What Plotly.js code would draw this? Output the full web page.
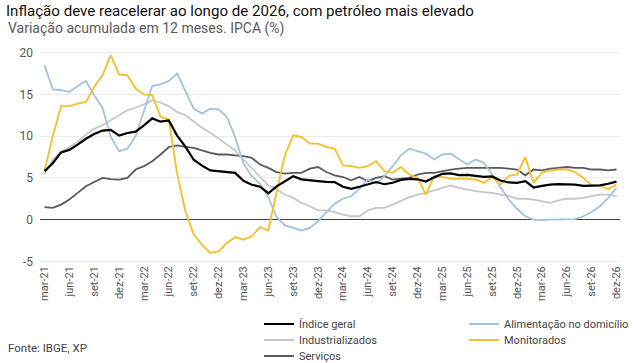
<!DOCTYPE html>
<html><head><meta charset="utf-8">
<script src="https://cdn.plot.ly/plotly-3.0.1.min.js"></script>
<style>html,body{margin:0;padding:0;background:#fff}#c{width:640px;height:363px}</style>
</head><body><div id="c"></div>
<script>
const months = ["mar-21","abr-21","mai-21","jun-21","jul-21","ago-21","set-21","out-21","nov-21","dez-21",
"jan-22","fev-22","mar-22","abr-22","mai-22","jun-22","jul-22","ago-22","set-22","out-22","nov-22","dez-22",
"jan-23","fev-23","mar-23","abr-23","mai-23","jun-23","jul-23","ago-23","set-23","out-23","nov-23","dez-23",
"jan-24","fev-24","mar-24","abr-24","mai-24","jun-24","jul-24","ago-24","set-24","out-24","nov-24","dez-24",
"jan-25","fev-25","mar-25","abr-25","mai-25","jun-25","jul-25","ago-25","set-25","out-25","nov-25","dez-25",
"jan-26","fev-26","mar-26","abr-26","mai-26","jun-26","jul-26","ago-26","set-26","out-26","nov-26","dez-26"];

const indiceGeral = [5.8,6.76,8.06,8.35,8.99,9.68,10.25,10.67,10.74,10.06,
10.38,10.54,11.30,12.13,11.73,11.89,10.07,8.73,7.17,6.47,5.90,5.79,
5.77,5.60,4.65,4.18,3.94,3.16,3.99,4.61,5.19,4.82,4.68,4.62,
4.51,4.50,3.93,3.69,3.93,4.23,4.50,4.24,4.42,4.76,4.87,4.83,
4.56,5.06,5.48,5.53,5.32,5.35,5.2,5.13,5.17,4.68,4.45,4.4,
4.6,3.85,4.05,4.2,4.25,4.25,4.2,4.05,4.05,4.1,4.3,4.55];

const alimentacao = [18.5,15.6,15.5,15.3,16.0,16.6,14.9,13.4,9.9,8.2,
8.5,10.0,13.0,16.0,16.2,16.6,17.5,15.5,13.3,12.7,13.3,13.2,
12.3,9.9,6.7,5.2,4.3,2.7,0.3,-0.7,-1.0,-1.3,-1.0,-0.2,
0.9,1.9,2.5,2.8,3.7,4.8,4.3,5.2,6.4,7.7,8.5,8.2,
7.9,7.2,7.8,7.9,7.3,6.6,7.2,6.8,5.4,3.9,2.4,1.3,
0.4,0.0,-0.05,0.0,0.0,0.0,0.05,0.4,0.9,1.6,2.6,3.8];

const industrializados = [5.4,7.2,8.1,8.7,9.3,10.2,10.9,11.3,11.9,12.6,
13.1,13.4,13.8,14.3,14.0,13.6,12.9,12.5,11.7,11.0,10.4,9.7,
9.1,8.3,7.2,6.2,5.2,4.1,3.6,3.0,2.6,2.0,1.6,1.1,
1.1,0.9,0.6,0.4,0.4,1.1,1.4,1.4,1.8,2.3,2.7,3.0,
3.2,3.5,3.8,4.1,3.8,3.6,3.4,3.3,3.2,3.0,2.8,2.5,
2.5,2.4,2.2,2.0,2.3,2.5,2.5,2.6,2.8,3.0,3.0,2.8];

const monitorados = [5.8,10.0,13.6,13.6,13.9,14.1,15.9,17.3,19.7,17.4,
17.3,15.7,15.0,14.9,12.3,12.0,5.5,1.0,-1.8,-3.0,-4.0,-3.8,
-2.8,-2.1,-2.4,-2.0,-0.9,-1.3,3.3,7.7,10.1,9.9,9.1,9.1,
8.7,8.5,6.5,6.4,6.2,6.4,7.0,5.8,5.6,6.3,5.4,5.0,
3.0,5.2,5.1,4.9,4.9,4.9,4.8,4.4,5.1,4.2,5.25,5.4,
7.5,4.4,5.6,5.9,6.0,6.0,5.7,5.0,4.1,4.1,3.65,4.2];

const servicos = [1.5,1.4,1.8,2.4,3.2,4.0,4.5,5.0,4.85,4.8,
5.0,6.0,6.4,7.0,7.8,8.7,8.9,8.7,8.6,8.3,8.0,7.8,
7.8,7.7,7.6,7.4,6.6,6.2,5.7,5.5,5.6,5.6,6.1,6.3,
5.7,5.3,5.1,4.7,5.1,4.6,5.0,5.2,4.8,4.9,5.0,5.4,
5.6,5.6,5.8,6.0,6.1,6.2,6.2,6.2,6.2,6.2,6.1,6.0,
5.3,6.0,5.9,6.1,6.2,6.3,6.2,6.2,6.0,6.0,5.9,6.0];

const idx = months.map((m,i)=>i);
const tickIdx = idx.filter(i=>i%3===0);
const tickText = tickIdx.map(i=>months[i]);

function tr(name, y, color, width, leg){
  return {x: idx, y: y, name: name, type:'scatter', mode:'lines',
    line:{color:color, width:width}, legend: leg, hoverinfo:'skip'};
}
const data = [
  tr('Serviços', servicos, '#5a5a5a', 1.8, 'legend5'),
  tr('Industrializados', industrializados, '#c6c6c6', 1.8, 'legend3'),
  tr('Alimentação no domicílio', alimentacao, '#a3c2dd', 1.8, 'legend2'),
  tr('Monitorados', monitorados, '#f1c232', 1.9, 'legend4'),
  tr('Índice geral', indiceGeral, '#000000', 2.2, 'legend')
];

const PL = 40, PR = 620, PT = 51, PB = 263;
const W = PR - PL, H = PB - PT;
const px2x = p => (p - PL) / W;
const px2y = p => (PB - p) / H;

function leg(xp, yp){
  return {orientation:'v', xanchor:'left', yanchor:'middle', x:px2x(xp), y:px2y(yp),
    font:{size:11, color:'#444'}, bgcolor:'rgba(0,0,0,0)', itemwidth:30, tracegroupgap:0};
}

const layout = {
  width:640, height:363,
  margin:{l:PL, r:640-PR, t:PT, b:363-PB, autoexpand:false},
  paper_bgcolor:'#fff', plot_bgcolor:'#fff',
  font:{family:'Roboto, sans-serif', color:'#555'},
  title:{text:'Inflação deve reacelerar ao longo de 2026, com petróleo mais elevado',
    x:6/640, xref:'container', xanchor:'left', y:1-11/363, yref:'container', yanchor:'middle',
    font:{family:'Roboto, sans-serif', size:15.1, color:'#111'}},
  xaxis:{range:[-0.54, 69.42], tickvals:tickIdx, ticktext:tickText, tickangle:-90,
    showgrid:false, zeroline:false, showline:false, ticks:'',
    tickfont:{size:11, color:'#555'}},
  yaxis:{range:[-5.2, 20.2], tickvals:[-5,0,5,10,15,20], ticktext:['-5','0','5','10','15','20'],
    showgrid:true, gridcolor:'#ebebeb', gridwidth:1,
    zeroline:true, zerolinecolor:'#404040', zerolinewidth:1.5,
    showline:false, ticks:'', ticklabelstandoff:6,
    tickfont:{size:12, color:'#555'}},
  showlegend:true,
  legend: leg(259, 324),
  legend3: leg(259, 340),
  legend5: leg(259, 356),
  legend2: leg(464, 324),
  legend4: leg(464, 340),
  annotations:[
    {text:'Variação acumulada em 12 meses. IPCA (%)', xref:'paper', yref:'paper',
     x:px2x(6), xanchor:'left', y:px2y(29), yanchor:'middle', showarrow:false,
     font:{size:14, color:'#595959'}},
    {text:'Fonte: IBGE, XP', xref:'paper', yref:'paper',
     x:px2x(6), xanchor:'left', y:px2y(348), yanchor:'middle', showarrow:false,
     font:{size:11.5, color:'#444'}}
  ]
};
Plotly.newPlot('c', data, layout, {displayModeBar:false, staticPlot:true});
</script></body></html>
